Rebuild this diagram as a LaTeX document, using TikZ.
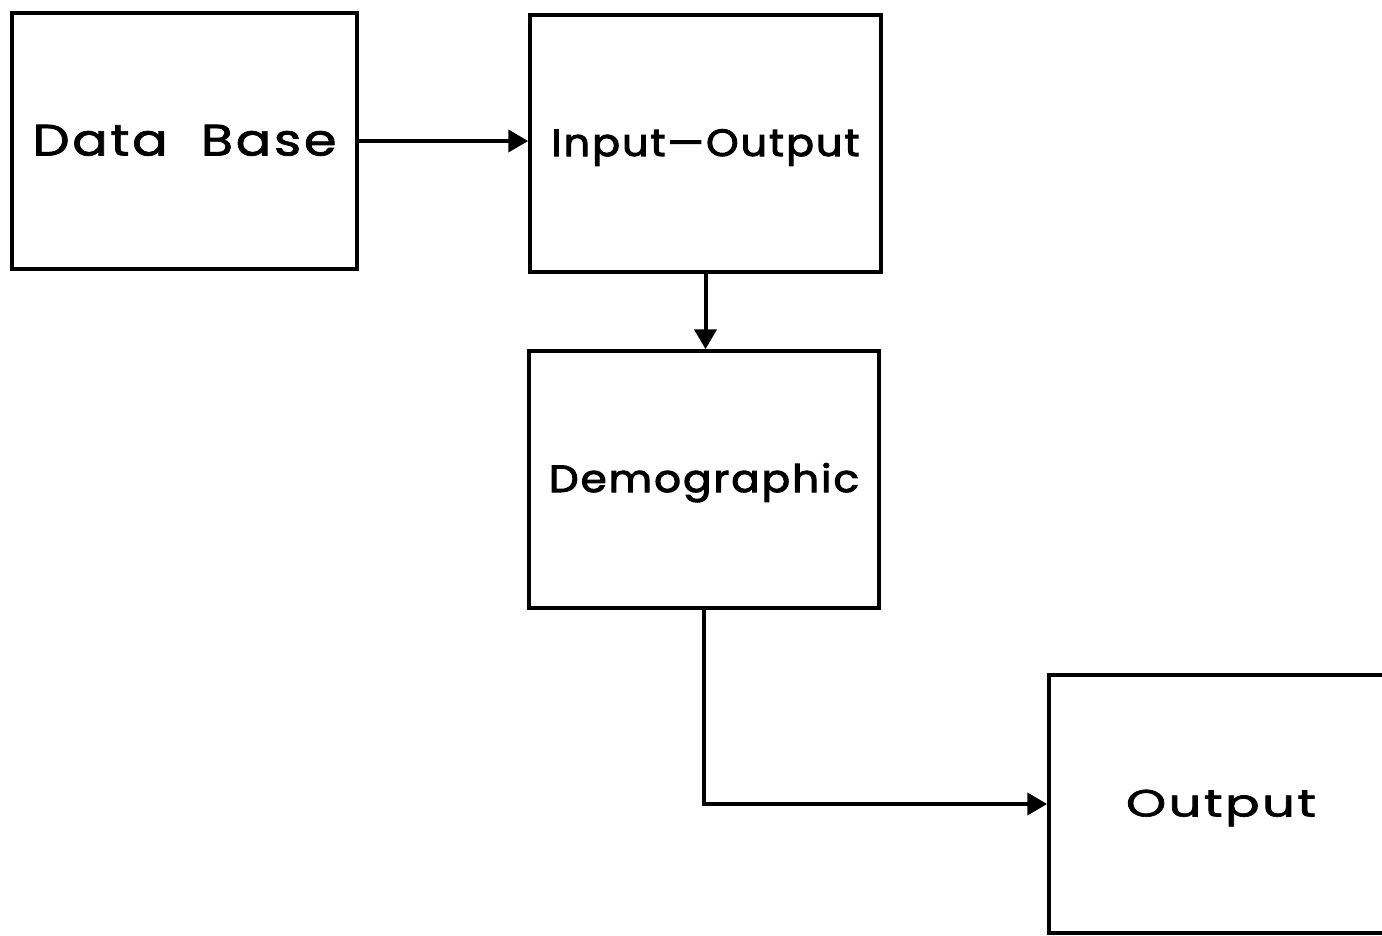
\documentclass[tikz,border=0pt]{standalone}
\usepackage{fontspec}
\setmainfont[LetterSpace=5]{Poppins}
\newfontfamily\labfont[LetterSpace=5, FakeBold=1.6]{Poppins}
\newfontfamily\labfontbold[LetterSpace=5, FakeBold=2.6]{Poppins}
\usetikzlibrary{arrows.meta}

% Set a label at a given size, then stretch it horizontally to a given width
\newsavebox\labbox
\newcommand\fitlabel[3]{%
  \sbox\labbox{\fontsize{#1}{#1}\selectfont #3}%
  \pgfmathsetmacro\labsx{#2/\the\wd\labbox}%
  \scalebox{\labsx}[1]{\usebox\labbox}}

\tikzset{
  block/.style={draw, line width=3.5pt, rectangle, inner sep=0pt, text depth=0pt},
  conn/.style={line width=4pt, -{Triangle[length=20pt,width=22pt]}},
}

\begin{document}
\begin{tikzpicture}[x=1pt, y=-1pt]
  \useasboundingbox (0,0) rectangle (1382,935);

  % modules of the model
  \node[block, minimum width=345pt, minimum height=256pt, text height=29pt]
    (db) at (184.5,141) {\fitlabel{44pt}{304}{\labfont Data\ \ Base}};
  \node[block, minimum width=351pt, minimum height=257pt, text height=25pt]
    (io) at (705.5,143.5) {\fitlabel{38pt}{308}{\labfontbold Input—Output}};
  \node[block, minimum width=350pt, minimum height=257pt, text height=25pt]
    (demo) at (704,479.5) {\fitlabel{38pt}{310}{\labfontbold Demographic}};
  \node[block, minimum width=344pt, minimum height=258pt, text height=25pt]
    (out) at (1221,804) {\fitlabel{38pt}{190}{\labfont Output}};

  % flow between the modules
  \draw[conn] (db.east) -- (db.east -| io.west);
  \draw[conn] (io.south) -- (io.south |- demo.north);
  \draw[conn] (demo.south) |- (out.west);
\end{tikzpicture}
\end{document}
